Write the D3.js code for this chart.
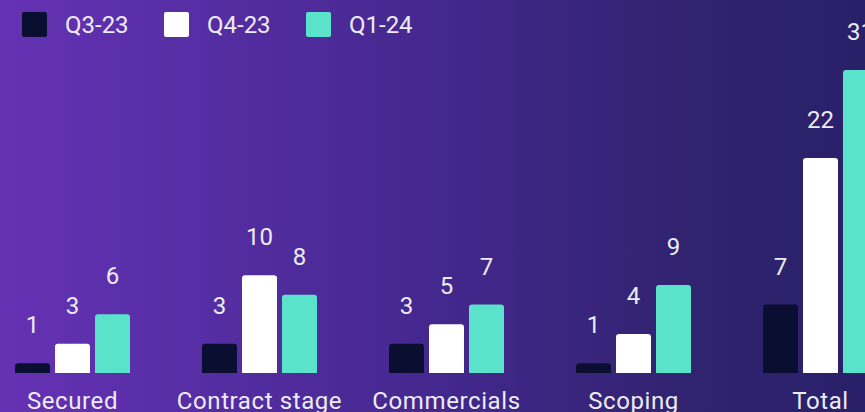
<!DOCTYPE html>
<html>
<head>
<meta charset="utf-8">
<script src="https://cdn.jsdelivr.net/npm/d3@7"></script>
<style>
  html, body { margin: 0; padding: 0; background: #2c2170; overflow: hidden; }
  svg { display: block; font-family: Roboto, "Noto Sans", sans-serif; }
</style>
</head>
<body>
<svg id="chart" width="865" height="412"></svg>
<script>
// Pipeline counts by stage, per quarter
const categories = ["Secured", "Contract stage", "Commercials", "Scoping", "Total"];
const quarters = ["Q3-23", "Q4-23", "Q1-24"];
const q3_23 = [1, 3, 3, 1, 7];
const q4_23 = [3, 10, 5, 4, 22];
const q1_24 = [6, 8, 7, 9, 31];
const seriesValues = [q3_23, q4_23, q1_24];
const colors = ["#0a0e30", "#ffffff", "#5ae3ca"];

const W = 865, H = 412;
const svg = d3.select("#chart");

// Background gradient
const defs = svg.append("defs");
const grad = defs.append("linearGradient").attr("id", "bg")
  .attr("x1", "0%").attr("y1", "0%").attr("x2", "100%").attr("y2", "0%");
[[0, "#6532b4"], [0.25, "#552da2"], [0.5, "#44288e"], [0.8, "#30236f"], [1, "#2a206a"]]
  .forEach(([o, c]) => grad.append("stop").attr("offset", o).attr("stop-color", c));
svg.append("rect").attr("width", W).attr("height", H).attr("fill", "url(#bg)");

// Scales
const x0 = d3.scalePoint().domain(categories).range([72.5, 820.5]);
const x1 = d3.scaleBand().domain(quarters).range([-60, 60])
  .paddingInner(0.125).paddingOuter(0.0625);
const y = d3.scaleLinear().domain([0, 31]).range([373, 70]);

// Bar with rounded top corners
function topRounded(x, yTop, w, yBase, r) {
  const h = yBase - yTop;
  r = Math.min(r, h, w / 2);
  return `M${x},${yBase}V${yTop + r}Q${x},${yTop} ${x + r},${yTop}` +
    `H${x + w - r}Q${x + w},${yTop} ${x + w},${yTop + r}V${yBase}Z`;
}

const rows = [];
categories.forEach((c, i) => quarters.forEach((q, j) =>
  rows.push({ c, q, j, v: seriesValues[j][i] })));

const g = svg.append("g");
g.selectAll("path.bar").data(rows).join("path")
  .attr("class", "bar")
  .attr("fill", d => colors[d.j])
  .attr("d", d => topRounded(x0(d.c) + x1(d.q), y(d.v), x1.bandwidth(), y(0), 3));

g.selectAll("text.val").data(rows).join("text")
  .attr("class", "val")
  .attr("x", d => x0(d.c) + x1(d.q) + x1.bandwidth() / 2)
  .attr("y", d => y(d.v) - 30)
  .attr("text-anchor", "middle")
  .attr("fill", "#ececf4")
  .attr("font-size", 24)
  .text(d => d.v);

// Category labels
svg.append("g").selectAll("text").data(categories).join("text")
  .attr("x", d => x0(d))
  .attr("y", 409)
  .attr("text-anchor", "middle")
  .attr("fill", "#ececf4")
  .attr("font-size", 24)
  .attr("letter-spacing", 0.6)
  .text(d => d);

// Legend
const legend = svg.append("g").selectAll("g").data(quarters).join("g")
  .attr("transform", (d, i) => `translate(${22 + i * 142},12)`);
legend.append("rect").attr("width", 25).attr("height", 25).attr("rx", 2)
  .attr("fill", (d, i) => colors[i]);
legend.append("text").attr("x", 43).attr("y", 21)
  .attr("fill", "#ececf4").attr("font-size", 24).text(d => d);
</script>
</body>
</html>
